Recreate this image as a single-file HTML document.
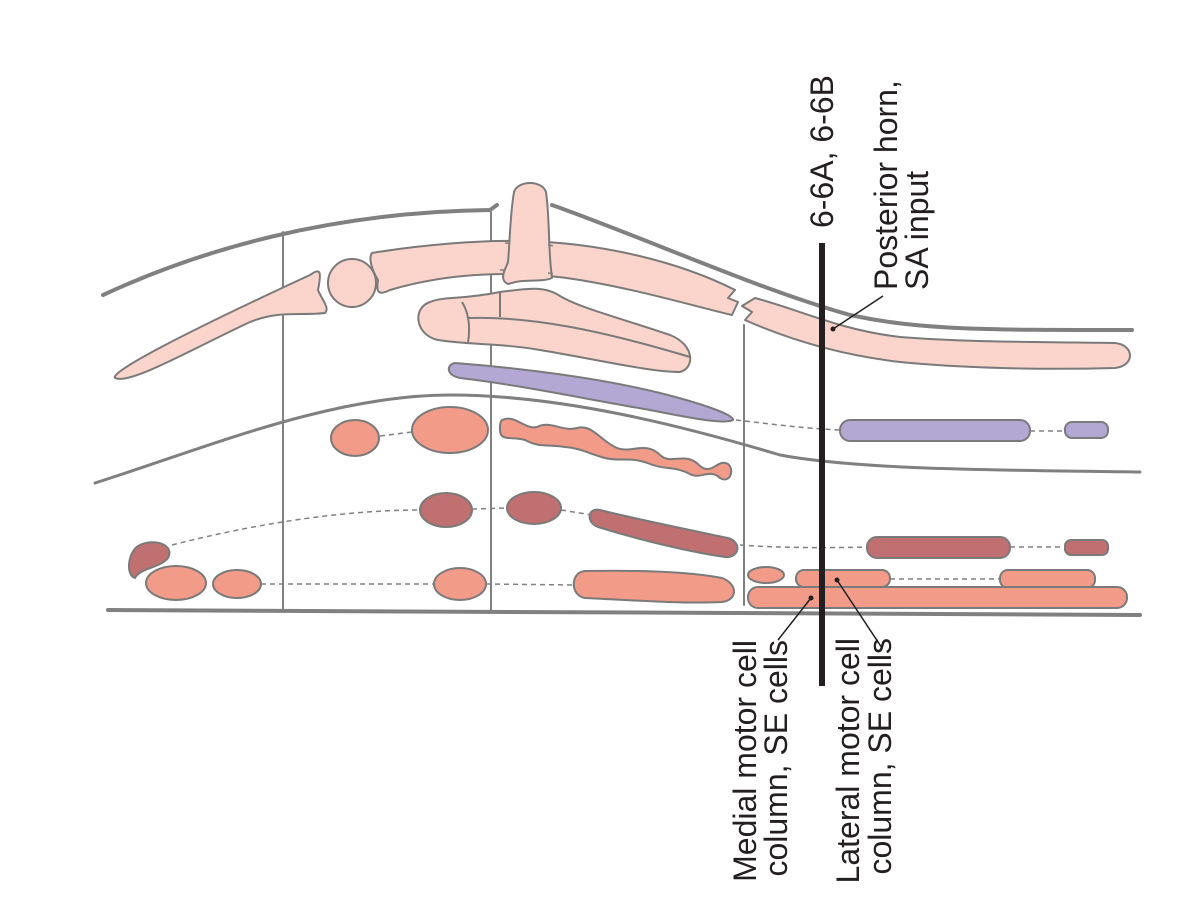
<!DOCTYPE html>
<html><head><meta charset="utf-8"><style>html,body{margin:0;padding:0;background:#fff}svg{display:block}</style></head>
<body>
<svg width="1195" height="899" viewBox="0 0 1195 899" xmlns="http://www.w3.org/2000/svg" font-family="'Liberation Sans', Arial, sans-serif">
<g fill="none" stroke="#808080" stroke-linecap="round">
<path d="M103,295 C200,250 330,212 490,210 L497,205" stroke-width="4"/>
<path d="M552,205 C650,240 760,290 850,315 C920,330 980,330 1132,330" stroke-width="4"/>
<path d="M95,483 C200,450 330,395 450,395 C560,395 680,425 780,455 C860,470 1000,470 1140,472" stroke-width="3"/>
<path d="M108,610 L1140,615" stroke-width="4"/>
<path d="M283,232 L283,610" stroke-width="2"/>
<path d="M491,212 L491,612" stroke-width="2"/>
<path d="M744,325 L744,605" stroke-width="2"/>
</g>
<g stroke="#7a7a7a" stroke-width="2" stroke-linejoin="round">
<path fill="#fbd5cb" d="M115,378 C110,372 180,335 310,275 C320,268 322,270 318,290 C322,300 330,308 325,313 C300,316 280,310 250,322 C190,350 130,385 115,378 Z"/>
<circle cx="352" cy="283" r="24" fill="#fbd5cb"/>
<path fill="#fbd5cb" d="M372,253 C420,245 480,240 520,241 C600,242 680,262 735,290 L728,298 L738,302 L732,315 C690,305 640,290 580,280 C520,270 450,272 390,290 C378,296 376,292 378,280 C372,270 368,258 372,253 Z"/>
<path fill="#fbd5cb" d="M755,298 C800,310 840,330 900,337 C960,342 1040,342 1115,343 C1135,345 1135,366 1115,368 C1040,370 960,368 900,362 C840,355 790,340 745,320 L752,312 L742,306 Z"/>
<path fill="#fbd5cb" d="M514,192 C518,180 542,180 546,192 C550,220 548,250 552,278 C540,283 525,278 508,284 C498,280 506,268 508,262 C510,240 510,215 514,192 Z"/>
<path fill="#fbd5cb" d="M430,302 C445,296 460,300 500,292 C530,288 545,286 560,296 C580,308 620,318 670,335 C695,345 695,368 680,372 C650,372 600,360 540,350 C500,343 470,345 438,340 C415,335 412,308 430,302 Z"/>
<path fill="none" d="M462,302 C470,315 470,330 468,343 M500,292 L500,317 M468,318 C530,316 600,330 690,357"/>
<path fill="#b3a8d3" d="M455,363 C520,368 600,378 660,393 C700,403 735,415 733,420 C725,424 700,420 650,410 C580,398 520,385 460,378 C445,375 447,364 455,363 Z"/>
<rect x="840" y="420" width="190" height="21" rx="10" fill="#b3a8d3"/>
<rect x="1065" y="422" width="43" height="16" rx="7" fill="#b3a8d3"/>
<ellipse cx="355" cy="438" rx="24" ry="18" fill="#f29b88"/>
<ellipse cx="450" cy="430" rx="38" ry="23" fill="#f29b88"/>
<path fill="#f29b88" d="M502,420 C515,414 525,430 537,427 C550,420 562,432 577,428 C592,424 600,440 615,447 C630,455 645,440 660,455 C672,466 685,450 700,466 C712,476 718,458 728,464 C735,470 730,484 720,478 C710,468 700,480 690,474 C675,466 665,470 650,464 C630,456 620,462 605,458 C590,454 580,448 565,447 C548,444 540,448 525,440 C512,436 500,442 500,430 C500,424 500,422 502,420 Z"/>
<path fill="#c07070" d="M140,545 C155,538 175,545 168,558 C160,568 140,568 135,578 C125,575 128,550 140,545 Z"/>
<ellipse cx="446" cy="510" rx="26" ry="17" fill="#c07070"/>
<ellipse cx="534" cy="508" rx="27" ry="16" fill="#c07070"/>
<path fill="#c07070" d="M600,510 C640,520 690,530 728,538 C742,542 740,558 725,557 C690,552 640,540 598,527 C585,522 588,507 600,510 Z"/>
<rect x="867" y="537" width="143" height="21" rx="10" fill="#c07070"/>
<rect x="1065" y="540" width="43" height="15" rx="6" fill="#c07070"/>
<ellipse cx="176" cy="583" rx="30" ry="17" fill="#f29b88"/>
<ellipse cx="237" cy="584" rx="24" ry="14" fill="#f29b88"/>
<ellipse cx="460" cy="584" rx="26" ry="16" fill="#f29b88"/>
<path fill="#f29b88" d="M585,571 C640,570 690,572 722,578 C738,584 738,600 722,602 C680,604 630,600 585,598 C570,596 570,572 585,571 Z"/>
<ellipse cx="766" cy="575" rx="18" ry="8" fill="#f29b88"/>
<rect x="796" y="570" width="94" height="17" rx="8" fill="#f29b88"/>
<rect x="1000" y="570" width="95" height="18" rx="8" fill="#f29b88"/>
<rect x="748" y="587" width="379" height="21" rx="10" fill="#f29b88"/>
</g>
<g fill="none" stroke="#808080" stroke-width="1.5" stroke-dasharray="5,4">
<path d="M380,436 L412,432"/>
<path d="M505,243 L510,243 M548,245 L555,246 M500,270 L508,270 M548,273 L556,274"/>
<path d="M736,420 C780,425 800,428 840,430"/>
<path d="M1030,431 L1065,431"/>
<path d="M172,545 C250,525 340,510 420,510"/>
<path d="M472,509 L507,508 M561,510 L592,515"/>
<path d="M740,545 C780,548 830,548 867,547"/>
<path d="M1010,547 L1065,547"/>
<path d="M261,584 L434,584 M486,584 L575,585"/>
<path d="M890,579 L1000,579"/>
</g>
<rect x="819" y="243" width="6" height="443" fill="#231f20"/>
<g stroke="#231f20" stroke-width="1.5">
<line x1="833" y1="329" x2="883" y2="296"/>
<line x1="811" y1="598" x2="778" y2="640"/>
<line x1="837" y1="580" x2="882" y2="648"/>
</g>
<g fill="#231f20"><circle cx="833" cy="329" r="2.5"/><circle cx="811" cy="598" r="2.5"/><circle cx="837" cy="580" r="2.5"/></g>
<g font-size="32" fill="#231f20">
<text transform="translate(833,228) rotate(-90)">6-6A, 6-6B</text>
<text transform="translate(897,290) rotate(-90)">Posterior horn,</text>
<text transform="translate(928,290) rotate(-90)">SA input</text>
<text transform="translate(756,640) rotate(-90)" text-anchor="end">Medial motor cell</text>
<text transform="translate(787,640) rotate(-90)" text-anchor="end">column, SE cells</text>
<text transform="translate(859,638) rotate(-90)" text-anchor="end">Lateral motor cell</text>
<text transform="translate(891,638) rotate(-90)" text-anchor="end">column, SE cells</text>
</g>
</svg>
</body></html>
